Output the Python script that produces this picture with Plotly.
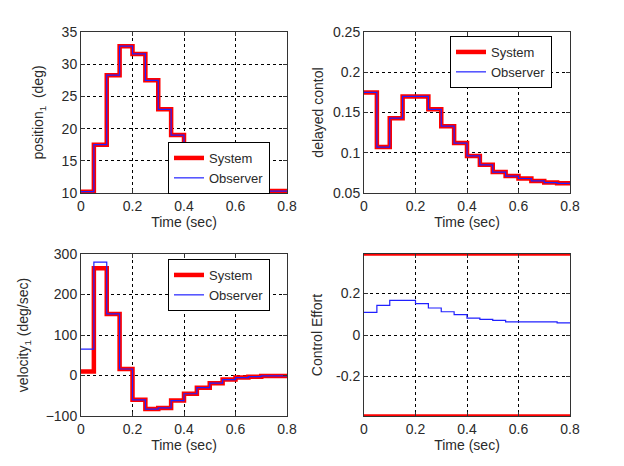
import plotly.graph_objects as go

t = [0, 0.05, 0.1, 0.15, 0.2, 0.25, 0.3, 0.35, 0.4, 0.45, 0.5, 0.55, 0.6, 0.65, 0.7, 0.75, 0.8]

pos_sys = [10.2, 17.5, 28.3, 32.8, 31.6, 27.5, 23.0, 19.0, 15.9, 13.6, 12.1, 11.2, 10.9, 10.6, 10.3, 10.3, 10.3]
pos_obs = [10.2, 17.5, 28.3, 32.8, 31.6, 27.5, 23.0, 19.0, 15.9, 13.6, 12.1, 11.2, 10.9, 10.6, 10.3, 10.3, 10.3]

del_sys = [0.175, 0.107, 0.143, 0.170, 0.170, 0.154, 0.133, 0.112, 0.096, 0.085, 0.076, 0.071, 0.068, 0.065, 0.063, 0.062, 0.062]
del_obs = [0.175, 0.107, 0.143, 0.170, 0.170, 0.154, 0.133, 0.112, 0.096, 0.085, 0.076, 0.071, 0.068, 0.065, 0.063, 0.062, 0.062]

vel_sys = [10, 265, 152, 16, -60, -83, -80, -62, -45, -30, -19, -10, -5, -3, -1, -1, -1]
vel_obs = [65, 280, 152, 16, -60, -83, -80, -62, -45, -30, -19, -10, -5, -3, -1, -1, -1]

effort = [0.109, 0.143, 0.167, 0.167, 0.151, 0.130, 0.112, 0.098, 0.081, 0.075, 0.070, 0.063, 0.063, 0.063, 0.063, 0.058, 0.058]
limit_hi = [0.39, 0.39]
limit_lo = [-0.39, -0.39]
limit_t = [0, 0.8]

RED = "#ff0000"
BLUE = "#2020ff"
TXT = "#2a2a2a"
FONT = "Liberation Sans, Arial, sans-serif"

fig = go.Figure()

W, H = 624, 466
def dx(a, b):
    return [a / W, b / W]
def dy(top, bottom):
    return [1 - bottom / H, 1 - top / H]

panels = [
    # (xaxis id, yaxis id, xdomain, ydomain, yrange, ytickvals, yticktext, ytitle, ystandoff)
    ("x", "y", dx(81, 287), dy(32, 193), [10, 35], [10, 15, 20, 25, 30, 35], None, "position<sub>1</sub>&nbsp; (deg)", 14),
    ("x2", "y2", dx(364, 570), dy(32, 193), [0.05, 0.25], [0.05, 0.1, 0.15, 0.2, 0.25], ["0.05", "0.1", "0.15", "0.2", "0.25"], "delayed contol", 6),
    ("x3", "y3", dx(81, 287), dy(254, 416), [-100, 300], [-100, 0, 100, 200, 300], None, "velocity<sub>1</sub> (deg/sec)", 13),
    ("x4", "y4", dx(364, 570), dy(254, 416), [-0.39, 0.39], [-0.2, 0, 0.2], ["-0.2", "0", "0.2"], "Control Effort", 10),
]

series = [
    (pos_sys, pos_obs, "legend"),
    (del_sys, del_obs, "legend2"),
    (vel_sys, vel_obs, "legend3"),
]

for i, (s, o, lg) in enumerate(series):
    xa, ya = panels[i][0], panels[i][1]
    fig.add_trace(go.Scatter(x=t, y=s, mode="lines", line=dict(color=RED, width=4.5, shape="hv"),
                             name="System", xaxis=xa, yaxis=ya, legend=lg))
    fig.add_trace(go.Scatter(x=t, y=o, mode="lines", line=dict(color=BLUE, width=1.2, shape="hv"),
                             name="Observer", xaxis=xa, yaxis=ya, legend=lg))

fig.add_trace(go.Scatter(x=limit_t, y=limit_hi, mode="lines", line=dict(color=RED, width=3.5),
                         showlegend=False, xaxis="x4", yaxis="y4", cliponaxis=False))
fig.add_trace(go.Scatter(x=limit_t, y=limit_lo, mode="lines", line=dict(color=RED, width=3.5),
                         showlegend=False, xaxis="x4", yaxis="y4", cliponaxis=False))
fig.add_trace(go.Scatter(x=t, y=effort, mode="lines", line=dict(color=BLUE, width=1.2, shape="hv"),
                         showlegend=False, xaxis="x4", yaxis="y4"))

layout = dict(
    width=W, height=H,
    margin=dict(l=0, r=0, t=0, b=0),
    paper_bgcolor="white", plot_bgcolor="white",
    font=dict(family=FONT, size=14, color=TXT),
)

axis_common = dict(
    showline=True, linecolor="#333333", linewidth=1, mirror="allticks",
    ticks="inside", ticklen=4, tickcolor="#333333",
    showgrid=True, gridcolor="black", gridwidth=1, griddash="3px,3px",
    zeroline=False, automargin=False,
    tickfont=dict(family=FONT, size=14, color=TXT),
)

for (xa, ya, xd, yd, yr, ytv, ytt, ytitle, ystand) in panels:
    xkey = "xaxis" if xa == "x" else "xaxis" + xa[1:]
    ykey = "yaxis" if ya == "y" else "yaxis" + ya[1:]
    layout[xkey] = dict(axis_common, domain=xd, range=[0, 0.8], tickvals=[0, 0.2, 0.4, 0.6, 0.8],
                        ticktext=["0", "0.2", "0.4", "0.6", "0.8"], anchor=ya,
                        title=dict(text="Time (sec)", font=dict(size=14, color=TXT), standoff=3))
    yax = dict(axis_common, domain=yd, range=yr, tickvals=ytv, anchor=xa,
               title=dict(text=ytitle, font=dict(size=14, color=TXT), standoff=ystand))
    if ytt is not None:
        yax["ticktext"] = ytt
    layout[ykey] = yax

legend_common = dict(bgcolor="white", bordercolor="black", borderwidth=1,
                     font=dict(family=FONT, size=13, color=TXT),
                     xanchor="left", yanchor="top", tracegroupgap=0, itemwidth=30)
layout["legend"] = dict(legend_common, x=168 / W, y=1 - 142 / H)
layout["legend2"] = dict(legend_common, x=450 / W, y=1 - 36 / H)
layout["legend3"] = dict(legend_common, x=168 / W, y=1 - 259 / H)

fig.update_layout(**layout)
fig.write_html("out.html")
